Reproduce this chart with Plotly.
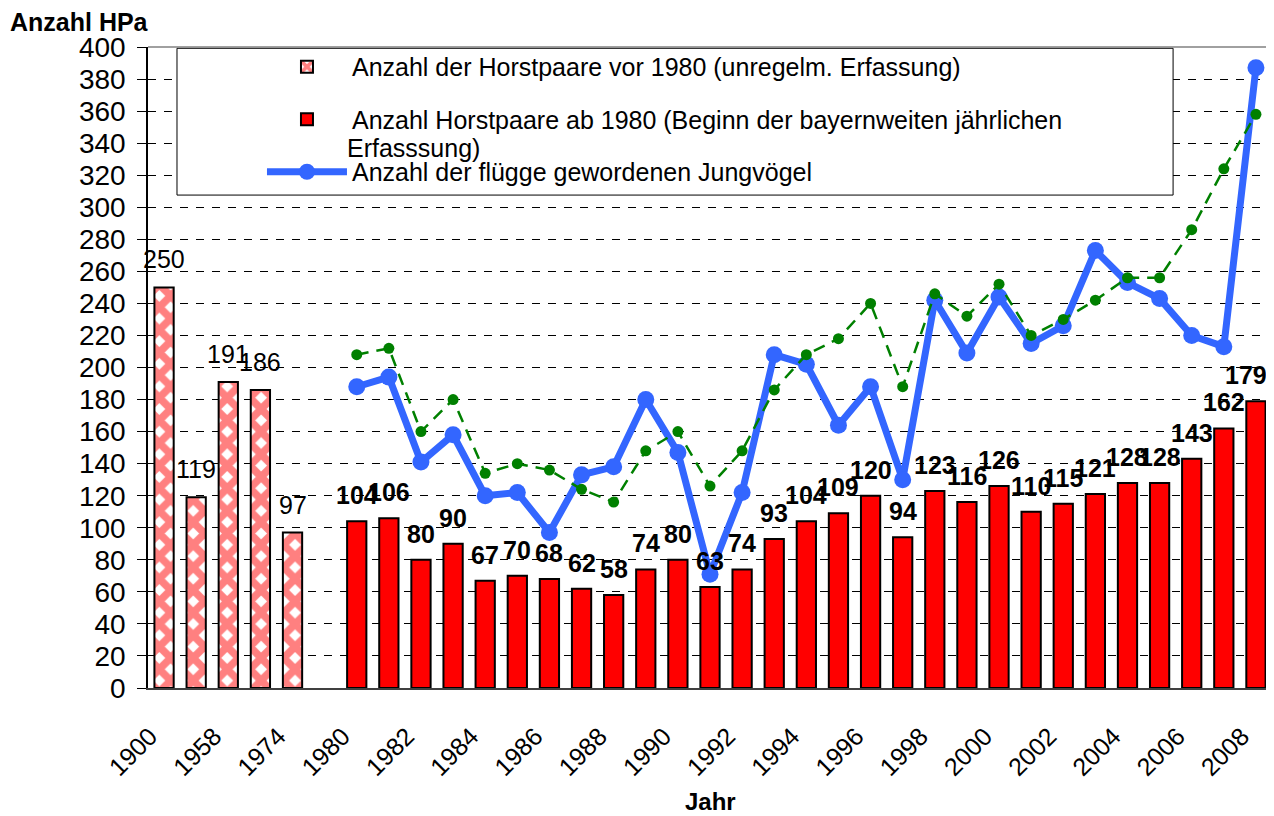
import plotly.graph_objects as go

# ---------------- data ----------------
pink_years = ["1900", "1950", "1958", "1970", "1974"]
pink_values = [250, 119, 191, 186, 97]

gap_category = [" "]

years = ["1980", "1981", "1982", "1983", "1984", "1985", "1986", "1987", "1988", "1989",
         "1990", "1991", "1992", "1993", "1994", "1995", "1996", "1997", "1998", "1999",
         "2000", "2001", "2002", "2003", "2004", "2005", "2006", "2007", "2008"]
red_values = [104, 106, 80, 90, 67, 70, 68, 62, 58, 74,
              80, 63, 74, 93, 104, 109, 120, 94, 123, 116,
              126, 110, 115, 121, 128, 128, 143, 162, 179]
young_values = [188, 194, 141, 158, 120, 122, 97, 133, 138, 180,
                147, 71, 122, 208, 202, 164, 188, 130, 242, 209,
                244, 215, 226, 273, 253, 243, 220, 213, 387]
green_values = [208, 212, 160, 180, 134, 140, 136, 124, 116, 148,
                160, 126, 148, 186, 208, 218, 240, 188, 246, 232,
                252, 220, 230, 242, 256, 256, 286, 324, 358]

tick_labels = ["1900", "1958", "1974", "1980", "1982", "1984", "1986", "1988", "1990",
               "1992", "1994", "1996", "1998", "2000", "2002", "2004", "2006", "2008"]

categories = pink_years + gap_category + years

name_pink = "Anzahl der Horstpaare vor 1980 (unregelm. Erfassung)"
name_red = "Anzahl Horstpaare ab 1980 (Beginn der bayernweiten jährlichen"
name_red_cont = "Erfasssung)"
name_blue = "Anzahl der flügge gewordenen Jungvögel"

FONT = "Liberation Sans, Arial, sans-serif"

fig = go.Figure()

fig.add_trace(go.Bar(
    x=pink_years, y=pink_values, name=name_pink, legendgroup="a",
    marker=dict(color="#FF8080", line=dict(color="black", width=2),
                pattern=dict(shape="x", fgcolor="#FF8080", bgcolor="white",
                             size=16, solidity=0.72, fillmode="replace")),
))
fig.add_trace(go.Bar(
    x=years, y=red_values, name=name_red, legendgroup="b",
    marker=dict(color="#FF0000", line=dict(color="black", width=2)),
))
fig.add_trace(go.Scatter(
    x=years, y=young_values, name=name_blue, legendgroup="c",
    mode="lines+markers",
    line=dict(color="#3366FF", width=7),
    marker=dict(color="#3366FF", size=17),
))
fig.add_trace(go.Scatter(
    x=years, y=green_values, showlegend=False,
    mode="lines+markers",
    line=dict(color="#008000", width=2.5, dash="12px,8px"),
    marker=dict(color="#008000", size=11),
))

annotations = []
for c, v in zip(pink_years, pink_values):
    annotations.append(dict(x=categories.index(c), y=v, xref="x", yref="y", text=str(v),
                            showarrow=False, yanchor="bottom", yshift=12,
                            font=dict(family=FONT, size=25, color="black")))
for i, (c, v) in enumerate(zip(years, red_values)):
    annotations.append(dict(x=categories.index(c), y=v, xref="x", yref="y", text="<b>%d</b>" % v,
                            showarrow=False, yanchor="bottom", yshift=10,
                            xshift=-10 if i == len(years) - 1 else 0,
                            font=dict(family=FONT, size=25, color="black")))

annotations.append(dict(x=-0.1246, y=1.039, xref="paper", yref="paper", text="<b>Anzahl HPa</b>",
                        showarrow=False, xanchor="left", yanchor="middle",
                        font=dict(family=FONT, size=25, color="black")))
annotations.append(dict(x=0.5, y=-0.1765, xref="paper", yref="paper", text="<b>Jahr</b>",
                        showarrow=False, xanchor="center", yanchor="middle",
                        font=dict(family=FONT, size=24, color="black")))
# continuation line of the wrapped legend entry
annotations.append(dict(x=0.1753, y=0.8424, xref="paper", yref="paper", text=name_red_cont,
                        showarrow=False, xanchor="left", yanchor="middle",
                        font=dict(family=FONT, size=25, color="black")))

shapes = [
    # legend frame
    dict(type="rect", xref="paper", yref="paper", x0=0.0258, x1=0.912, y0=0.769, y1=0.998,
         fillcolor="white", line=dict(color="black", width=1), layer="above"),
    # plot-area border (top and right)
    dict(type="line", xref="paper", yref="paper", x0=0, x1=1, y0=1, y1=1,
         line=dict(color="#808080", width=1.5), layer="above"),
    dict(type="line", xref="paper", yref="paper", x0=1, x1=1, y0=0, y1=1,
         line=dict(color="#808080", width=1.5), layer="above"),
]

fig.update_layout(
    width=1266, height=808,
    margin=dict(l=140, r=2, t=39, b=128),
    paper_bgcolor="white", plot_bgcolor="white",
    barmode="overlay", bargap=0.4,
    font=dict(family=FONT, color="black"),
    showlegend=True,
    legend=dict(x=0.1014, y=1.0047, xanchor="left", yanchor="top",
                bgcolor="rgba(0,0,0,0)", borderwidth=0,
                font=dict(family=FONT, size=25, color="black"),
                itemwidth=80, tracegroupgap=17, traceorder="grouped"),
    annotations=annotations,
    shapes=shapes,
)

fig.update_xaxes(
    type="category", categoryorder="array", categoryarray=categories,
    range=[-0.5, len(categories) - 0.5],
    tickvals=tick_labels, ticktext=tick_labels,
    tickangle=-45, tickfont=dict(family=FONT, size=25, color="black"),
    showline=True, linecolor="#404040", linewidth=1.5,
    showgrid=False, ticks="", ticklabelstandoff=22, ticklabelshift=-14,
)
fig.update_yaxes(
    range=[0, 400], dtick=20, tick0=0,
    tickfont=dict(family=FONT, size=28, color="black"),
    showline=True, linecolor="black", linewidth=1.5,
    ticks="outside", ticklen=9, tickcolor="black", tickwidth=1,
    ticklabelstandoff=6,
    showgrid=True, gridcolor="black", gridwidth=1, griddash="8px,8px",
    zeroline=False,
)

fig.write_html("out.html")
